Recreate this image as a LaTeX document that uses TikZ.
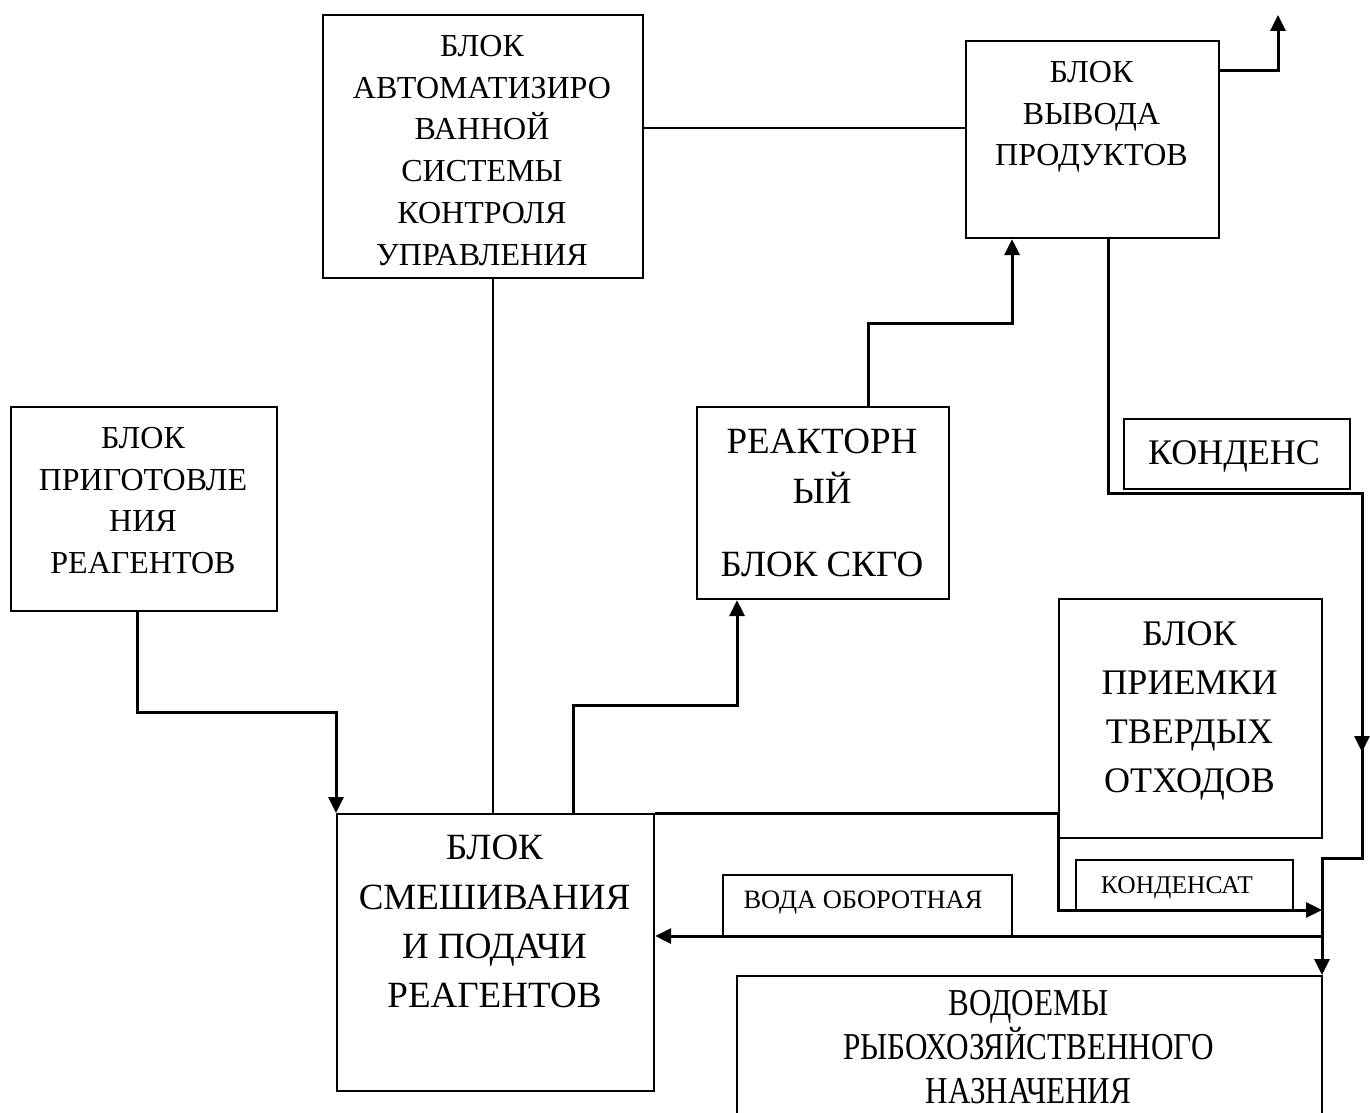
\documentclass[tikz,border=0pt]{standalone}
\usepackage{fontspec}
\setmainfont{Liberation Serif}
\newfontfamily\condfont[FakeStretch=0.82]{Liberation Serif}
\usetikzlibrary{arrows.meta}
\begin{document}
\begin{tikzpicture}[x=1pt,y=-1pt,
  box/.style={draw, line width=2.1pt, inner sep=0pt, anchor=north west},
  thinline/.style={line width=2pt},
  flow/.style={line width=3pt},
  arr/.style={flow, -{Triangle[length=16pt,width=15pt]}},
  txt/.style={align=center, inner sep=0pt, anchor=north},
]
\fill[white] (0,0) rectangle (1370,1113);
\useasboundingbox (0,0) rectangle (1370,1113);
\clip (0,0) rectangle (1370,1113);

% boxes
\node[box, minimum width=320pt, minimum height=263pt] (A) at (322,14) {};
\node[box, minimum width=253pt, minimum height=197pt] (B) at (965,40) {};
\node[box, minimum width=266pt, minimum height=204pt] (C) at (10,406) {};
\node[box, minimum width=252pt, minimum height=192pt] (D) at (696,406) {};
\node[box, minimum width=317pt, minimum height=277pt] (E) at (336,813) {};
\node[box, minimum width=263pt, minimum height=239pt] (F) at (1058,598) {};
\node[box, minimum width=585pt, minimum height=200pt] (G) at (736,975) {};
\node[box, minimum width=226pt, minimum height=70pt] (K1) at (1123,418) {};
\node[box, minimum width=217pt, minimum height=51pt] (K2) at (1075,859) {};
\node[box, minimum width=289pt, minimum height=62pt] (W) at (722,874) {};

% texts
\node[txt, font=\fontsize{32}{41.8}\selectfont] (tA) at (482,35)
  {БЛОК\\АВТОМАТИЗИРО\\ВАННОЙ\\СИСТЕМЫ\\КОНТРОЛЯ\\УПРАВЛЕНИЯ};
\node[txt, font=\fontsize{32}{41.7}\selectfont] (tB) at (1091.5,61)
  {БЛОК\\ВЫВОДА\\ПРОДУКТОВ};
\node[txt, font=\fontsize{32}{41.7}\selectfont] (tC) at (143,427)
  {БЛОК\\ПРИГОТОВЛЕ\\НИЯ\\РЕАГЕНТОВ};
\node[txt, font=\fontsize{37}{50}\selectfont] (tD) at (822,429)
  {РЕАКТОРН\\ЫЙ\\[23pt]БЛОК СКГО};
\node[txt, font=\fontsize{37}{49.3}\selectfont] (tE) at (494.5,835)
  {БЛОК\\СМЕШИВАНИЯ\\И ПОДАЧИ\\РЕАГЕНТОВ};
\node[txt, font=\fontsize{36}{49.3}\selectfont] (tF) at (1189.5,621)
  {БЛОК\\ПРИЕМКИ\\ТВЕРДЫХ\\ОТХОДОВ};
\node[txt, font=\fontsize{36}{44}\selectfont] (tK1) at (1234,440) {КОНДЕНС};
\node[txt, font=\fontsize{25.5}{30}\selectfont] (tK2) at (1177,876) {КОНДЕНСАТ};
\node[txt, font=\fontsize{26.5}{30}\selectfont] (tW) at (863,891) {ВОДА ОБОРОТНАЯ};
\node[txt, font=\condfont\fontsize{38}{44}\selectfont] (tG) at (1028.5,990)
  {ВОДОЕМЫ\\РЫБОХОЗЯЙСТВЕННОГО\\НАЗНАЧЕНИЯ};

\coordinate (out) at (1278,15);

% connectors
\draw[thinline] (A.east |- 0,128) -- (B.west |- 0,128);
\draw[thinline] (A.south -| 493,0) -- (E.north -| 493,0);
\draw[arr] (B.east |- 0,71) -| (out);
\draw[arr] (B.south -| 1108,0) |- (1362,493) -- (1362,752);
\draw[arr] (1362,745) |- (1322,858) -- (G.north -| 1322,0);
\draw[arr] (D.north -| 868,0) |- (1012,323) -- (B.south -| 1012,0);
\draw[arr] (E.north -| 573,0) |- (737,705) -- (D.south -| 737,0);
\draw[arr] (C.south -| 137,0) |- (336,712) -- (E.north west);
\draw[arr] (E.north east) -| (F.south west) |- (1322,910);
\draw[arr] (1322,936) -- (E.east |- 0,936);
\end{tikzpicture}
\end{document}
